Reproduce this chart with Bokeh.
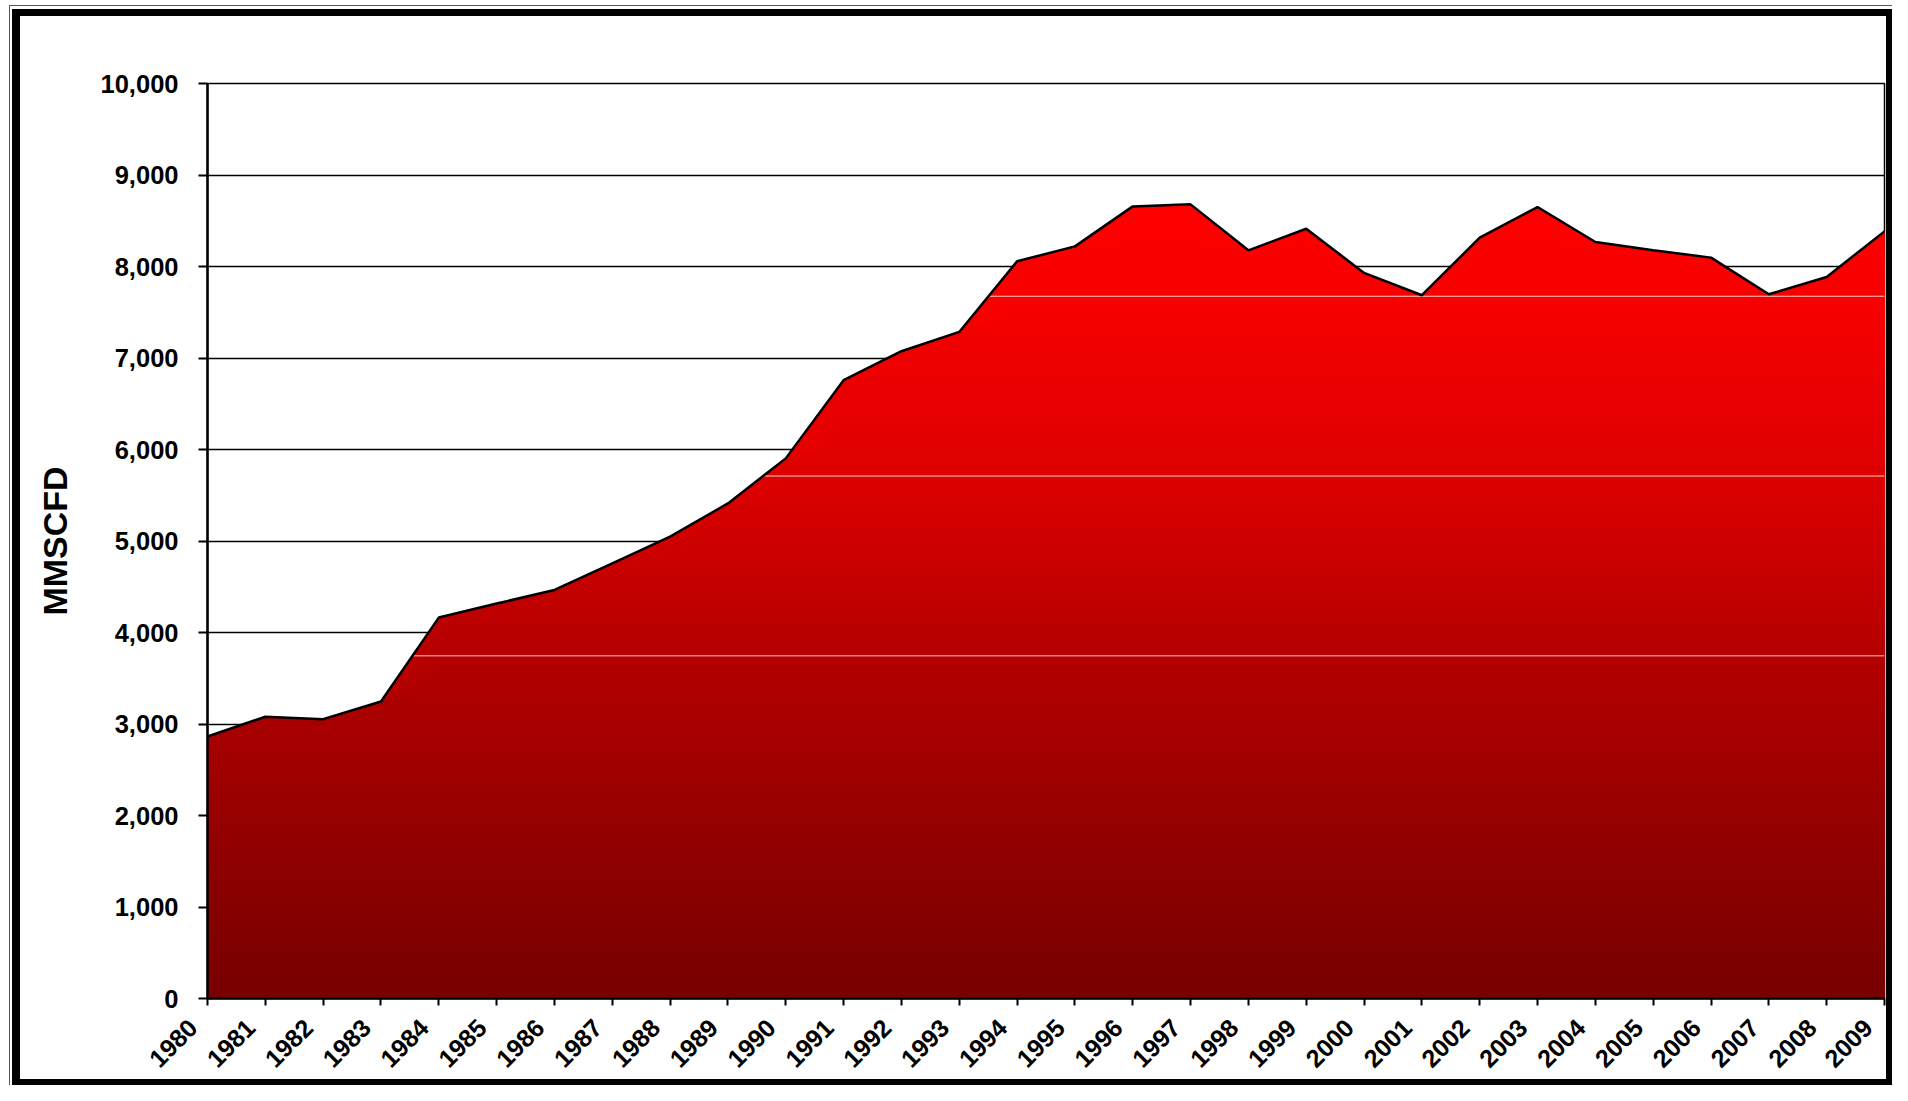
import math
import numpy as np
from bokeh.plotting import figure
from bokeh.models import Range1d, FixedTicker, NumeralTickFormatter
from bokeh.embed import file_html
from bokeh.resources import INLINE

# ---- data ----
years = list(range(1980, 2010))
production = [2864, 3079, 3053, 3246, 4163, 4316, 4465, 4756, 5047, 5411,
              5903, 6758, 7074, 7285, 8057, 8220, 8657, 8679, 8177, 8413,
              7930, 7686, 8315, 8650, 8268, 8177, 8097, 7696, 7886, 8384]
year_labels = [str(y) for y in years]
y_ticks = list(range(0, 10001, 1000))
y_label = "MMSCFD"

# ---- style: vertical red gradient stops (value level -> red channel) ----
grad_levels = [0, 3745, 5710, 7675, 8680]
grad_red = [118, 180, 221, 248, 255]
faint_levels = [3745, 5710, 7675]
LABEL_PAD = "\u00a0" * 3  # nudges the rotated year labels left of their ticks

FONT = "Liberation Sans"

p = figure(width=1892, height=1085, output_backend="svg", toolbar_location=None,
           x_range=Range1d(1980, 2009), y_range=Range1d(0, 10000),
           min_border_left=207, min_border_right=8, min_border_top=83,
           min_border_bottom=86)
p.border_fill_color = None
p.background_fill_color = "white"
p.outline_line_color = "black"
p.outline_line_width = 1.5
p.styles = {
    "background-color": "#ffffff",
    "box-shadow": ", ".join([
        "inset 9px 0 0 0 #fff", "inset 0 5px 0 0 #fff",
        "inset 10px 0 0 0 #555", "inset 0 6px 0 0 #555",
        "inset 12px 0 0 0 #fff", "inset 0 9px 0 0 #fff",
        "inset 20px 0 0 0 #000", "inset 0 16px 0 0 #000",
        "inset -6px 0 0 0 #000", "inset 0 -6px 0 0 #000",
    ]),
}

# gradient-filled area, built from stacked areas (top colour first)
vals = np.array(production, dtype=float)
top = vals.max()
edges = np.linspace(0, top, 141)
for k in range(len(edges) - 2, -1, -1):
    hi = edges[k + 1]
    mid = 0.5 * (edges[k] + hi)
    r = int(round(np.interp(mid, grad_levels, grad_red)))
    y2 = vals if k == len(edges) - 2 else np.minimum(vals, hi)
    p.varea(x=years, y1=0, y2=y2, fill_color=(r, 0, 0), fill_alpha=1.0)

# faint light lines inside the fill (rendering bands of the original)
fx0, fy = [], []
for F in faint_levels:
    for i in range(len(production) - 1):
        a, b = production[i], production[i + 1]
        if a < F <= b:
            fx0.append(years[i] + (F - a) / (b - a))
            fy.append(F)
            break
p.segment(x0=fx0, y0=fy, x1=[years[-1]] * len(fy), y1=fy,
          line_color="#f6caca", line_width=1)

p.line(years, production, line_color="black", line_width=2.5)

# grid
p.xgrid.visible = False
p.ygrid.grid_line_color = "black"
p.ygrid.grid_line_width = 1.5

# y axis
ya = p.yaxis[0]
ya.ticker = FixedTicker(ticks=y_ticks)
ya.formatter = NumeralTickFormatter(format="0,0")
ya.major_label_text_font = FONT
ya.major_label_text_font_style = "bold"
ya.major_label_text_font_size = "25.5px"
ya.major_label_text_color = "black"
ya.major_label_standoff = 20
ya.major_tick_out = 9
ya.major_tick_in = 0
ya.major_tick_line_width = 2
ya.minor_tick_line_color = None
ya.axis_line_width = 2.5
ya.axis_label = y_label
ya.axis_label_text_font = FONT
ya.axis_label_text_font_style = "bold"
ya.axis_label_text_font_size = "34px"
ya.axis_label_text_color = "black"
ya.axis_label_standoff = 24

# x axis
xa = p.xaxis[0]
xa.ticker = FixedTicker(ticks=years)
xa.major_label_overrides = {y: lab + LABEL_PAD for y, lab in zip(years, year_labels)}
xa.major_label_orientation = math.pi / 4
xa.major_label_text_font = FONT
xa.major_label_text_font_style = "bold"
xa.major_label_text_font_size = "25px"
xa.major_label_text_color = "black"
xa.major_label_standoff = 3
xa.major_tick_out = 7
xa.major_tick_in = 0
xa.major_tick_line_width = 2
xa.minor_tick_line_color = None
xa.axis_line_width = 2.5

open("out.html", "w").write(file_html(p, INLINE))
